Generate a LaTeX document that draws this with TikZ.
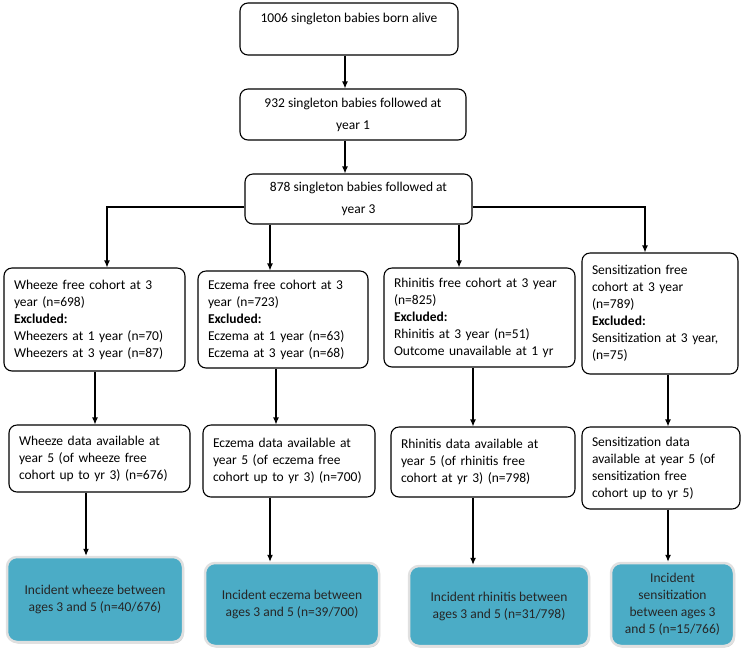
\documentclass[tikz,border=0pt]{standalone}
\usepackage{fontspec}
\setmainfont{Carlito}
\usetikzlibrary{arrows.meta,shadows}
\definecolor{incblue}{RGB}{75,172,198}

\begin{document}
\begin{tikzpicture}[x=1pt, y=-1pt,
  box/.style={draw, line width=1.1pt, rounded corners=8pt, align=center,
    font=\fontsize{13.5}{22}\selectfont, inner sep=0pt},
  lbox/.style={draw, line width=1.1pt, rounded corners=8pt, align=left,
    font=\fontsize{13.5}{17}\selectfont, inner xsep=10pt, inner ysep=0pt},
  incid/.style={draw=white!88!black, line width=2.5pt, fill=incblue,
    rounded corners=10pt, align=center, font=\fontsize{13.5}{17}\selectfont,
    inner sep=0pt, text=black!85,
    drop shadow={shadow xshift=1pt, shadow yshift=-1.5pt, opacity=0.35}},
  arr/.style={line width=1.1pt, -{Latex[length=7pt,width=6pt]}}]
\useasboundingbox (0,0) rectangle (743,657);

% top of the chart
\node[box, minimum width=218pt, minimum height=52pt] (top) at (349,29)
  {1006 singleton babies born alive\\ \mbox{}};
\node[box, minimum width=226pt, minimum height=51pt] (yr1) at (353,114.5)
  {932 singleton babies followed at\\ year 1};
\node[box, minimum width=227pt, minimum height=50pt] (yr3) at (358.5,199)
  {878 singleton babies followed at\\ year 3};

% free cohorts at 3 years
\node[lbox, text width=161pt, minimum height=103pt] (wfree) at (94.5,319.5)
  {Wheeze free cohort at 3\\ year (n=698)\\ \textbf{Excluded:}\\
   Wheezers at 1 year (n=70)\\ Wheezers at 3 year (n=87)};
\node[lbox, text width=150pt, minimum height=97pt] (efree) at (283,319.5)
  {Eczema free cohort at 3\\ year (n=723)\\ \textbf{Excluded:}\\
   Eczema at 1 year (n=63)\\ Eczema at 3 year (n=68)};
\node[lbox, text width=171pt, minimum height=99pt] (rfree) at (479.5,317.5)
  {Rhinitis free cohort at 3 year\\ (n=825)\\ \textbf{Excluded:}\\
   Rhinitis at 3 year (n=51)\\ Outcome unavailable at 1 yr};
\node[lbox, text width=136pt, minimum height=121pt] (sfree) at (660,313.5)
  {Sensitization free\\ cohort at 3 year\\ (n=789)\\ \textbf{Excluded:}\\
   Sensitization at 3 year,\\ (n=75)};

% data at 5 years
\node[lbox, text width=161pt, minimum height=67pt] (wdata) at (99.5,458.5)
  {Wheeze data available at\\ year 5 (of wheeze free\\ cohort up to yr 3) (n=676)};
\node[lbox, text width=152pt, minimum height=72pt] (edata) at (289,461)
  {Eczema data available at\\ year 5 (of eczema free\\ cohort up to yr 3) (n=700)};
\node[lbox, text width=164pt, minimum height=70pt] (rdata) at (483,462)
  {Rhinitis data available at\\ year 5 (of rhinitis free\\ cohort at yr 3) (n=798)};
\node[lbox, text width=138pt, minimum height=82pt] (sdata) at (661,468)
  {Sensitization data\\ available at year 5 (of\\ sensitization free\\ cohort up to yr 5)};

% incidence
\node[incid, minimum width=176pt, minimum height=85pt] (winc) at (95,599.5)
  {Incident wheeze between\\ ages 3 and 5 (n=40/676)};
\node[incid, minimum width=174pt, minimum height=83pt] (einc) at (292,604.5)
  {Incident eczema between\\ ages 3 and 5 (n=39/700)};
\node[incid, minimum width=180pt, minimum height=80pt] (rinc) at (499,606)
  {Incident rhinitis between\\ ages 3 and 5 (n=31/798)};
\node[incid, minimum width=123pt, minimum height=83pt] (sinc) at (672.5,604.5)
  {Incident\\ sensitization\\ between ages 3\\ and 5 (n=15/766)};

\draw[arr] ([xshift=-4pt]top.south) -- ([xshift=-4pt]top.south |- yr1.north);
\draw[arr] ([xshift=-8pt]yr1.south) -- ([xshift=-8pt]yr1.south |- yr3.north);

\draw[arr] ([yshift=-8pt]yr3.west) -| ([xshift=12.5pt]wfree.north);
\draw[arr] ([xshift=-88.5pt]yr3.south) -- ([xshift=-88.5pt]yr3.south |- efree.north);
\draw[arr] ([xshift=100.5pt]yr3.south) -- ([xshift=100.5pt]yr3.south |- rfree.north);
\draw[arr] ([yshift=-8pt]yr3.east) -| ([xshift=-15pt]sfree.north);

\draw[arr] ([xshift=0.5pt]wfree.south) -- ([xshift=0.5pt]wfree.south |- wdata.north);
\draw[arr] ([xshift=-7pt]efree.south) -- ([xshift=-7pt]efree.south |- edata.north);
\draw[arr] ([xshift=-6.5pt]rfree.south) -- ([xshift=-6.5pt]rfree.south |- rdata.north);
\draw[arr] ([xshift=8pt]sfree.south) -- ([xshift=8pt]sfree.south |- sdata.north);

\draw[arr] ([xshift=-13.5pt]wdata.south) -- ([xshift=-13.5pt]wdata.south |- winc.north);
\draw[arr] ([xshift=-19pt]edata.south) -- ([xshift=-19pt]edata.south |- einc.north);
\draw[arr] ([xshift=-10pt]rdata.south) -- ([xshift=-10pt]rdata.south |- rinc.north);
\draw[arr] ([xshift=7pt]sdata.south) -- ([xshift=7pt]sdata.south |- sinc.north);
\end{tikzpicture}
\end{document}
